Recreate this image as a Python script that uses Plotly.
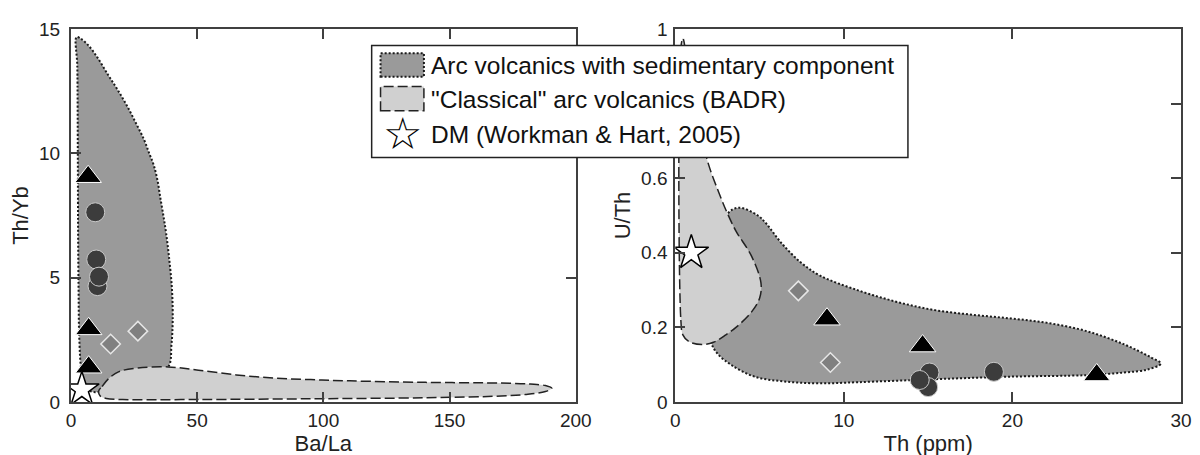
import plotly.graph_objects as go

# ---------------- data: left panel (Ba/La vs Th/Yb) ----------------
sed_L_x = [2.2, 4.0, 6.8, 10.5, 14.6, 18.5, 22.4, 25.8, 28.9, 31.0, 32.8, 34.3, 35.4, 36.6, 37.7, 38.8,
           40.0, 40.3, 39.8, 38.5, 30.0, 20.0, 13.0, 9.0, 6.0, 4.2, 3.3, 3.0, 2.8, 2.7, 2.5, 2.2]
sed_L_y = [14.67, 14.6, 14.35, 13.85, 13.17, 12.55, 11.87, 11.2, 10.56, 10.0, 9.52, 8.9, 8.21, 7.5, 6.78, 5.86,
           4.55, 3.25, 2.3, 1.41, 1.0, 0.6, 0.45, 0.4, 0.55, 1.2, 2.5, 4.5, 7.0, 10.0, 13.5, 14.67]

badr_L_x = [11.0, 12.3, 15.0, 19.0, 26.5, 38.5, 50.5, 65.5, 80.5, 95.0, 110.5, 140.5, 170.5, 182.0, 188.0,
            190.5, 188.0, 180.0, 170.5, 140.5, 95.5, 50.5, 20.5, 14.0, 11.5, 11.0]
badr_L_y = [0.45, 0.62, 0.95, 1.22, 1.37, 1.41, 1.28, 1.09, 0.96, 0.9, 0.85, 0.79, 0.76, 0.72, 0.66,
            0.55, 0.42, 0.3, 0.24, 0.17, 0.13, 0.1, 0.1, 0.14, 0.25, 0.45]

circ_L_x = [9.6, 10.0, 10.5, 11.1]
circ_L_y = [7.63, 5.73, 4.66, 5.04]
tri_L_x = [6.8, 7.0, 7.0]
tri_L_y = [9.06, 2.94, 1.40]
dia_L_x = [15.7, 26.5]
dia_L_y = [2.33, 2.85]
dm_L_x = [4.3]
dm_L_y = [0.5]

# ---------------- data: right panel (Th vs U/Th) ----------------
sed_R_x = [3.06, 3.74, 4.9, 5.4, 6.3, 7.45, 8.58, 10.8, 13.1, 15.3, 17.6, 19.9, 22.1, 24.4, 26.6, 28.2,
           28.8, 28.0, 26.6, 24.4, 19.9, 15.3, 10.8, 8.5, 6.5, 4.7, 3.3, 2.5, 2.14, 2.3, 2.7, 3.06]
sed_R_y = [0.502, 0.521, 0.50, 0.478, 0.426, 0.374, 0.339, 0.30, 0.269, 0.247, 0.234, 0.224, 0.212, 0.19,
           0.155, 0.12, 0.103, 0.087, 0.079, 0.072, 0.068, 0.061, 0.053, 0.05, 0.055, 0.068, 0.1, 0.13,
           0.16, 0.3, 0.42, 0.502]

badr_R_x = [0.33, 0.33, 0.45, 0.8, 1.58, 2.26, 3.0, 3.6, 4.5, 5.0, 5.08, 4.5, 3.6, 3.05, 2.57, 2.0, 1.5,
            1.0, 0.65, 0.45, 0.33]
badr_R_y = [0.95, 0.22, 0.18, 0.162, 0.154, 0.16, 0.18, 0.2, 0.24, 0.278, 0.32, 0.393, 0.458, 0.51, 0.563,
            0.633, 0.72, 0.84, 0.93, 0.975, 0.95]

circ_R_x = [15.08, 15.0, 14.5, 18.9]
circ_R_y = [0.079, 0.04, 0.059, 0.081]
tri_R_x = [9.0, 14.67, 25.0]
tri_R_y = [0.222, 0.150, 0.0725]
dia_R_x = [7.3, 9.2]
dia_R_y = [0.298, 0.106]
dm_R_x = [0.95]
dm_R_y = [0.40]

# tick labels (0.8 on the right panel is hidden behind the legend box in the original)
L_xticks = [0, 50, 100, 150, 200]
L_yticks = [0, 5, 10, 15]
R_xticks = [0, 10, 20, 30]
R_yticks = [0, 0.2, 0.4, 0.6, 0.8, 1]
R_yticklabels = ["0", "0.2", "0.4", "0.6", "", "1"]

legend_labels = ["Arc volcanics with sedimentary component",
                 "\"Classical\" arc volcanics (BADR)",
                 "DM (Workman & Hart, 2005)"]

# ---------------- styles ----------------
DARK = "#9a9a9a"
LIGHT = "#d0d0d0"
FONT = "Liberation Sans, Arial, sans-serif"

W, H = 1200, 455
ML, MR, MT, MB = 63, 11, 20, 52
PW, PH = W - ML - MR, H - MT - MB


def pxx(x):
    return (x - ML) / PW


def pxy(y):
    return (H - MB - y) / PH


fig = go.Figure()


def add_panel(xa, ya, sx, sy, bx, by, cx, cy, tx, ty, dx, dy, sx_, sy_):
    fig.add_trace(go.Scatter(x=sx, y=sy, mode="lines", fill="toself", fillcolor=DARK,
                             line=dict(color="#1a1a1a", width=2, dash="2px,2px", shape="spline", smoothing=1),
                             xaxis=xa, yaxis=ya, hoverinfo="skip"))
    fig.add_trace(go.Scatter(x=bx, y=by, mode="lines", fill="toself", fillcolor=LIGHT,
                             line=dict(color="#222222", width=1.5, dash="10px,4px", shape="spline", smoothing=1),
                             xaxis=xa, yaxis=ya, hoverinfo="skip"))
    fig.add_trace(go.Scatter(x=dx, y=dy, mode="markers",
                             marker=dict(symbol="diamond", size=15, color="#808080",
                                         line=dict(color="#e6e6e6", width=1.5)),
                             xaxis=xa, yaxis=ya))
    fig.add_trace(go.Scatter(x=cx, y=cy, mode="markers",
                             marker=dict(symbol="circle", size=19, color="#3c3c3c",
                                         line=dict(color="#c8c8c8", width=1)),
                             xaxis=xa, yaxis=ya))
    fig.add_trace(go.Scatter(x=tx, y=ty, mode="markers",
                             marker=dict(symbol="triangle-up", size=23, color="#000000",
                                         line=dict(color="#ffffff", width=1)),
                             xaxis=xa, yaxis=ya))
    fig.add_trace(go.Scatter(x=sx_, y=sy_, mode="markers",
                             marker=dict(symbol="star", size=26, color="#ffffff",
                                         line=dict(color="#000000", width=1.5)),
                             xaxis=xa, yaxis=ya))


add_panel("x", "y", sed_L_x, sed_L_y, badr_L_x, badr_L_y, circ_L_x, circ_L_y,
          tri_L_x, tri_L_y, dia_L_x, dia_L_y, dm_L_x, dm_L_y)
add_panel("x2", "y2", sed_R_x, sed_R_y, badr_R_x, badr_R_y, circ_R_x, circ_R_y,
          tri_R_x, tri_R_y, dia_R_x, dia_R_y, dm_R_x, dm_R_y)

axis_common = dict(showline=True, linecolor="#404040", linewidth=2, mirror="ticks",
                   ticks="inside", ticklen=10, tickwidth=1.5, tickcolor="#404040",
                   showgrid=False, zeroline=False,
                   tickfont=dict(family=FONT, size=19, color="#222222"))
TFONT = dict(family=FONT, size=22, color="#222222")

fig.update_layout(
    width=W, height=H,
    margin=dict(l=ML, r=MR, t=MT, b=MB),
    paper_bgcolor="white", plot_bgcolor="white",
    showlegend=False,
    xaxis=dict(domain=[0, pxx(575)], range=[0, 200], tickvals=L_xticks,
               title=dict(text="Ba/La", font=TFONT, standoff=6), **axis_common),
    yaxis=dict(domain=[0, 1], range=[0, 15], tickvals=L_yticks, ticklabelstandoff=5,
               title=dict(text="Th/Yb", font=TFONT, standoff=4), **axis_common),
    xaxis2=dict(domain=[pxx(676), 1], range=[0, 30], tickvals=R_xticks, anchor="y2",
                title=dict(text="Th (ppm)", font=TFONT, standoff=6), **axis_common),
    yaxis2=dict(domain=[0, 1], range=[0, 1], tickvals=R_yticks, ticktext=R_yticklabels, anchor="x2",
                ticklabelstandoff=2,
                title=dict(text="U/Th", font=TFONT, standoff=4), **axis_common),
)

# ---------------- legend box (drawn) ----------------
shapes = [
    dict(type="rect", xref="paper", yref="paper", x0=pxx(368), x1=pxx(912), y0=pxy(152), y1=pxy(37),
         fillcolor="white", line=dict(color="#222222", width=1.5), layer="above"),
    dict(type="rect", xref="paper", yref="paper", x0=pxx(377), x1=pxx(421), y0=pxy(69), y1=pxy(45),
         fillcolor=DARK, line=dict(color="#1a1a1a", width=2, dash="2px,2px"), layer="above"),
    dict(type="rect", xref="paper", yref="paper", x0=pxx(377), x1=pxx(421), y0=pxy(104), y1=pxy(79),
         fillcolor=LIGHT, line=dict(color="#222222", width=1.5, dash="10px,4px"), layer="above"),
]
annotations = []
for lab, yc in zip(legend_labels, [57, 92, 128]):
    annotations.append(dict(xref="paper", yref="paper", x=pxx(426), y=pxy(yc), text=lab, showarrow=False,
                            xanchor="left", yanchor="middle",
                            font=dict(family=FONT, size=24.5, color="#111111")))
annotations.append(dict(xref="paper", yref="paper", x=pxx(399), y=pxy(127), text="☆", showarrow=False,
                        xanchor="center", yanchor="middle",
                        font=dict(family="DejaVu Sans", size=44, color="#000000")))
fig.update_layout(shapes=shapes, annotations=annotations)

fig.write_html("out.html")
